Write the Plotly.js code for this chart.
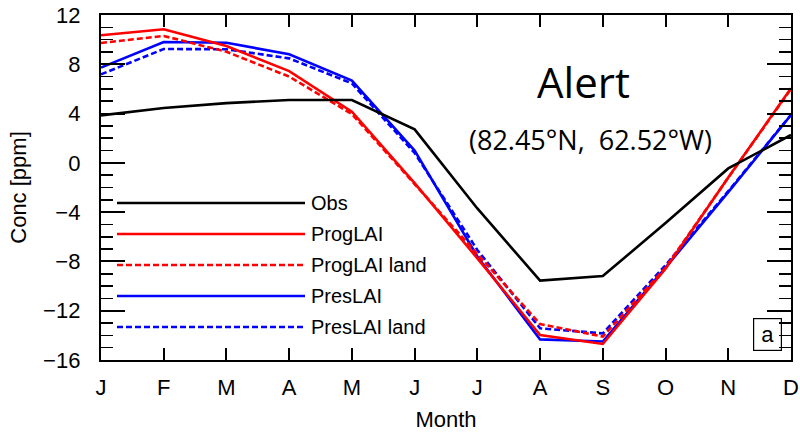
<!DOCTYPE html>
<html>
<head>
<meta charset="utf-8">
<script src="https://cdn.plot.ly/plotly-3.0.1.min.js"></script>
<style>html,body{margin:0;padding:0;background:#fff;}#chart{width:800px;height:432px;}</style>
</head>
<body>
<div id="chart"></div>
<script>
const months = ['J','F','M','A','M','J','J','A','S','O','N','D'];
const monthIndex = [1,2,3,4,5,6,7,8,9,10,11,12];
const obs         = [3.85, 4.45, 4.85, 5.1, 5.1, 2.72, -3.7, -9.56, -9.19, -4.88, -0.45, 2.26];
const progLAI     = [10.35, 10.84, 9.48, 7.45, 4.15, -1.64, -7.75, -13.97, -14.7, -8.6, -1.18, 6.05];
const progLAIland = [9.73, 10.3, 9.02, 7.0, 3.96, -1.7, -7.34, -13.08, -14.1, -8.5, -1.2, 6.0];
const presLAI     = [7.73, 9.81, 9.75, 8.81, 6.67, 1.0, -7.6, -14.33, -14.5, -8.5, -2.37, 3.88];
const presLAIland = [7.18, 9.24, 9.22, 8.48, 6.45, 0.8, -7.07, -13.43, -13.84, -8.3, -2.3, 3.9];
const seriesNames = ['Obs','ProgLAI','ProgLAI land','PresLAI','PresLAI land'];

const RED = '#ff0000', BLUE = '#0000ff', BLACK = '#000000';
const styles = {
  'Obs': {color: BLACK, dash: 'solid'},
  'ProgLAI': {color: RED, dash: 'solid'},
  'ProgLAI land': {color: RED, dash: '6px,3px'},
  'PresLAI': {color: BLUE, dash: 'solid'},
  'PresLAI land': {color: BLUE, dash: '6px,3px'}
};
const values = {
  'Obs': obs, 'ProgLAI': progLAI, 'ProgLAI land': progLAIland,
  'PresLAI': presLAI, 'PresLAI land': presLAIland
};
const drawOrder = ['PresLAI land','PresLAI','ProgLAI land','ProgLAI','Obs'];
const LW = 2.6;
const traces = drawOrder.map(n => ({
  type: 'scatter', mode: 'lines', name: n,
  x: monthIndex, y: values[n],
  line: {color: styles[n].color, dash: styles[n].dash, width: LW},
  showlegend: false, hoverinfo: 'skip'
}));

// Plot-area geometry (pixels) used to place the custom legend and labels
const L = 101, R = 9, T = 15, B = 72, W = 800, H = 432;
const pw = W - L - R, ph = H - T - B;
const px = x => (x - L) / pw;
const py = y => (H - B - y) / ph;

const shapes = [];
const annotations = [];
const legendY = [203, 234, 265, 296, 327];
seriesNames.forEach((n, i) => {
  shapes.push({type: 'line', xref: 'paper', yref: 'paper', layer: 'below',
    x0: px(117), x1: px(305), y0: py(legendY[i]), y1: py(legendY[i]),
    line: {color: styles[n].color, width: LW, dash: styles[n].dash}});
  annotations.push({xref: 'paper', yref: 'paper', x: px(309), y: py(legendY[i]),
    xanchor: 'left', yanchor: 'middle', showarrow: false, text: n,
    font: {family: 'Liberation Sans, Arial, sans-serif', size: 20, color: '#000'}});
});
annotations.push({xref: 'paper', yref: 'paper', x: px(583), y: py(82),
  xanchor: 'center', yanchor: 'middle', showarrow: false, text: 'Alert',
  font: {family: 'Open Sans, sans-serif', size: 42, color: '#000'}});
annotations.push({xref: 'paper', yref: 'paper', x: px(590), y: py(139),
  xanchor: 'center', yanchor: 'middle', showarrow: false, text: '(82.45°N,  62.52°W)',
  font: {family: 'Open Sans, sans-serif', size: 27, color: '#000'}});
annotations.push({xref: 'paper', yref: 'paper', x: px(767), y: py(334.5),
  xanchor: 'center', yanchor: 'middle', showarrow: false, text: 'a',
  width: 27, height: 31, bordercolor: '#000', borderwidth: 1.2, borderpad: 0,
  font: {family: 'Liberation Sans, Arial, sans-serif', size: 22, color: '#000'}});

const tickFont = {family: 'Liberation Sans, Arial, sans-serif', size: 22, color: '#000'};
const layout = {
  width: W, height: H,
  margin: {l: L, r: R, t: T, b: B, pad: 0},
  showlegend: false,
  xaxis: {
    range: [1, 12], tickmode: 'array', tickvals: monthIndex, ticktext: months,
    ticks: 'inside', ticklen: 12, tickwidth: 2, tickcolor: '#000',
    showline: true, linewidth: 2.2, linecolor: '#000', mirror: 'ticks',
    showgrid: false, zeroline: false, tickfont: tickFont, ticklabelstandoff: 6,
    title: {text: 'Month', font: tickFont, standoff: 13}
  },
  yaxis: {
    range: [-16, 12], tickmode: 'linear', tick0: 0, dtick: 4,
    ticks: 'inside', ticklen: 24, tickwidth: 2, tickcolor: '#000',
    minor: {dtick: 1, tick0: 0, ticks: 'inside', ticklen: 12, tickwidth: 1.6, tickcolor: '#000', showgrid: false},
    showline: true, linewidth: 2.2, linecolor: '#000', mirror: 'ticks',
    showgrid: false, zeroline: false, tickfont: tickFont, ticklabelstandoff: 14,
    title: {text: 'Conc [ppm]', font: tickFont, standoff: 10}
  },
  shapes: shapes,
  annotations: annotations
};
Plotly.newPlot('chart', traces, layout, {staticPlot: true, displayModeBar: false});
</script>
</body>
</html>
